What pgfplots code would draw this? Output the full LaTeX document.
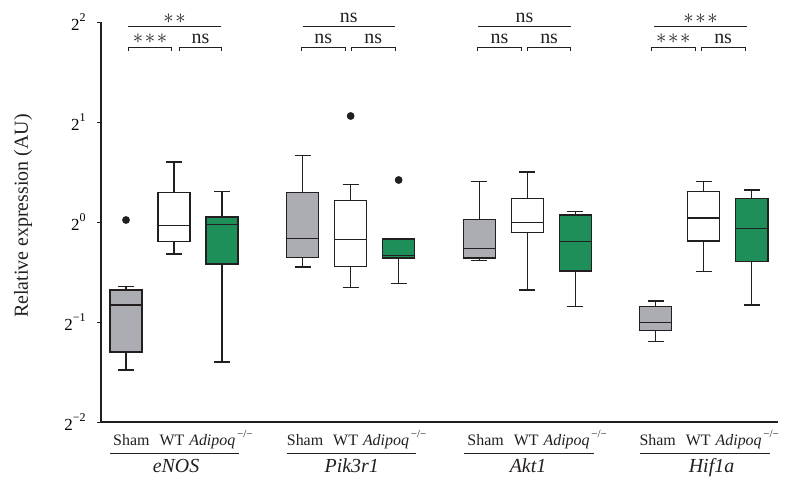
\documentclass[border=0pt]{standalone}
\usepackage{pgfplots}
\pgfplotsset{compat=1.18}
\usepgfplotslibrary{statistics}
\usetikzlibrary{calc}
\usepackage{fontspec}
\setmainfont{Liberation Serif}
\definecolor{boxgray}{RGB}{172,173,178}
\definecolor{boxgreen}{RGB}{31,143,89}
\definecolor{ink}{RGB}{35,31,32}
\newcommand{\pw}[1]{2\raisebox{0.52em}{\fontsize{12}{13}\selectfont#1}}
\newcommand{\grp}{Sham\hspace{10bp}WT\hspace{5bp}\textit{Adipoq}\raisebox{0.5em}{\fontsize{11}{12}\selectfont\,−/−}}
\begin{document}
\begin{tikzpicture}
\begin{axis}[
  name=ax, at={(0,0)}, anchor=south west,
  scale only axis, width=677bp, height=400bp,
  xmin=-0.521, xmax=13.583, ymin=-2, ymax=2,
  axis x line=bottom, axis y line=left,
  axis line style={-, ink, line width=1.1bp},
  xtick=\empty,
  ytick={-2,-1,0,1,2},
  yticklabels={\pw{−2},\pw{−1},\pw{0},\pw{1},\pw{2}},
  yticklabel style={font=\fontsize{17}{20}\selectfont, xshift=-8bp},
  tick align=outside, major tick length=4bp,
  tick style={ink, line width=1bp},
  clip=false,
  boxplot/draw direction=y,
  bx/.style={solid, draw=ink, line width=1.1bp,
    boxplot/draw direction=y,
    boxplot/box extend=0.667, boxplot/whisker extend=0.333,
    mark=*, mark size=3.3bp, mark options={fill=ink, draw=ink}},
]
% eNOS
\addplot[bx, fill=boxgray, boxplot prepared={draw position=0, lower whisker=-1.48, lower quartile=-1.30, median=-0.83, upper quartile=-0.68, upper whisker=-0.647}] coordinates {(0,0.02)};
\addplot[bx, fill=white, boxplot prepared={draw position=1, lower whisker=-0.32, lower quartile=-0.197, median=-0.037, upper quartile=0.293, upper whisker=0.60}] coordinates {};
\addplot[bx, fill=boxgreen, boxplot prepared={draw position=2, lower whisker=-1.40, lower quartile=-0.42, median=-0.027, upper quartile=0.05, upper whisker=0.303}] coordinates {};
% Pik3r1
\addplot[bx, fill=boxgray, boxplot prepared={draw position=3.68, lower whisker=-0.45, lower quartile=-0.357, median=-0.167, upper quartile=0.297, upper whisker=0.663}] coordinates {};
\addplot[bx, fill=white, boxplot prepared={draw position=4.68, lower whisker=-0.657, lower quartile=-0.447, median=-0.177, upper quartile=0.213, upper whisker=0.373}] coordinates {(0,1.06)};
\addplot[bx, fill=boxgreen, boxplot prepared={draw position=5.68, lower whisker=-0.613, lower quartile=-0.36, median=-0.333, upper quartile=-0.17, upper whisker=-0.17}] coordinates {(0,0.42)};
% Akt1
\addplot[bx, fill=boxgray, boxplot prepared={draw position=7.36, lower whisker=-0.387, lower quartile=-0.36, median=-0.267, upper quartile=0.023, upper whisker=0.407}] coordinates {};
\addplot[bx, fill=white, boxplot prepared={draw position=8.36, lower whisker=-0.68, lower quartile=-0.103, median=-0.007, upper quartile=0.237, upper whisker=0.50}] coordinates {};
\addplot[bx, fill=boxgreen, boxplot prepared={draw position=9.36, lower whisker=-0.843, lower quartile=-0.49, median=-0.193, upper quartile=0.07, upper whisker=0.103}] coordinates {};
% Hif1a
\addplot[bx, fill=boxgray, boxplot prepared={draw position=11.04, lower whisker=-1.197, lower quartile=-1.083, median=-1.007, upper quartile=-0.847, upper whisker=-0.79}] coordinates {};
\addplot[bx, fill=white, boxplot prepared={draw position=12.04, lower whisker=-0.493, lower quartile=-0.19, median=0.04, upper quartile=0.303, upper whisker=0.403}] coordinates {};
\addplot[bx, fill=boxgreen, boxplot prepared={draw position=13.04, lower whisker=-0.83, lower quartile=-0.397, median=-0.067, upper quartile=0.233, upper whisker=0.32}] coordinates {};

% significance brackets
\tikzset{br/.style={ink, line width=1bp}, st/.style={font=\fontsize{20}{22}\selectfont, anchor=base, inner sep=0pt, text=ink}}
% eNOS
\draw[br] (axis cs:0.048,1.715) -- (axis cs:0.048,1.75) -- (axis cs:0.952,1.75) -- (axis cs:0.952,1.715);
\draw[br] (axis cs:1.104,1.715) -- (axis cs:1.104,1.75) -- (axis cs:1.994,1.75) -- (axis cs:1.994,1.715);
\draw[br] (axis cs:0.048,1.96) -- (axis cs:1.979,1.96);
\node[st] at (axis cs:0.5,1.787) {${\ast}\mkern1.5mu{\ast}\mkern1.5mu{\ast}$};
\node[st] at (axis cs:1.55,1.787) {ns};
\node[st] at (axis cs:1.01,1.985) {${\ast}\mkern1.5mu{\ast}$};
% Pik3r1
\draw[br] (axis cs:3.66,1.715) -- (axis cs:3.66,1.75) -- (axis cs:4.563,1.75) -- (axis cs:4.563,1.715);
\draw[br] (axis cs:4.702,1.715) -- (axis cs:4.702,1.75) -- (axis cs:5.604,1.75) -- (axis cs:5.604,1.715);
\draw[br] (axis cs:3.681,1.96) -- (axis cs:5.604,1.96);
\node[st] at (axis cs:4.11,1.787) {ns};
\node[st] at (axis cs:5.15,1.787) {ns};
\node[st] at (axis cs:4.64,1.993) {ns};
% Akt1
\draw[br] (axis cs:7.327,1.715) -- (axis cs:7.327,1.75) -- (axis cs:8.23,1.75) -- (axis cs:8.23,1.715);
\draw[br] (axis cs:8.36,1.715) -- (axis cs:8.36,1.75) -- (axis cs:9.27,1.75) -- (axis cs:9.27,1.715);
\draw[br] (axis cs:7.34,1.96) -- (axis cs:9.27,1.96);
\node[st] at (axis cs:7.78,1.787) {ns};
\node[st] at (axis cs:8.815,1.787) {ns};
\node[st] at (axis cs:8.3,1.993) {ns};
% Hif1a
\draw[br] (axis cs:10.95,1.715) -- (axis cs:10.95,1.75) -- (axis cs:11.854,1.75) -- (axis cs:11.854,1.715);
\draw[br] (axis cs:11.99,1.715) -- (axis cs:11.99,1.75) -- (axis cs:12.896,1.75) -- (axis cs:12.896,1.715);
\draw[br] (axis cs:11.0,1.96) -- (axis cs:12.93,1.96);
\node[st] at (axis cs:11.4,1.787) {${\ast}\mkern1.5mu{\ast}\mkern1.5mu{\ast}$};
\node[st] at (axis cs:12.44,1.787) {ns};
\node[st] at (axis cs:11.97,1.985) {${\ast}\mkern1.5mu{\ast}\mkern1.5mu{\ast}$};

% y label
\node[xshift=-78bp, rotate=90, font=\fontsize{20}{22}\selectfont, text=ink] at (rel axis cs:0,0.515) {Relative expression (AU)};

% group labels
\tikzset{gl/.style={font=\fontsize{16}{18}\selectfont, anchor=base west, inner sep=0pt, text=ink, yshift=-23bp},
  gn/.style={font=\fontsize{20}{22}\selectfont\itshape, anchor=base, inner sep=0pt, text=ink, yshift=-50.7bp},
  ul/.style={ink, line width=1bp, yshift=-31bp}}
\node[gl] at (axis cs:-0.271,-2) {\grp};
\node[gl] at (axis cs:3.348,-2) {\grp};
\node[gl] at (axis cs:7.11,-2) {\grp};
\node[gl] at (axis cs:10.694,-2) {\grp};
\draw[ul] (axis cs:-0.333,-2) -- (axis cs:2.354,-2);
\draw[ul] (axis cs:3.348,-2) -- (axis cs:6.042,-2);
\draw[ul] (axis cs:7.04,-2) -- (axis cs:9.74,-2);
\draw[ul] (axis cs:10.708,-2) -- (axis cs:13.417,-2);
\node[gn] at (axis cs:1.042,-2) {eNOS};
\node[gn] at (axis cs:4.702,-2) {Pik3r1};
\node[gn] at (axis cs:8.375,-2) {Akt1};
\node[gn] at (axis cs:12.198,-2) {Hif1a};
\end{axis}
\pgfresetboundingbox
\path ($(ax.south west)+(-101bp,-55bp)$) rectangle ($(ax.south west)+(684bp,422bp)$);
\end{tikzpicture}
\end{document}
